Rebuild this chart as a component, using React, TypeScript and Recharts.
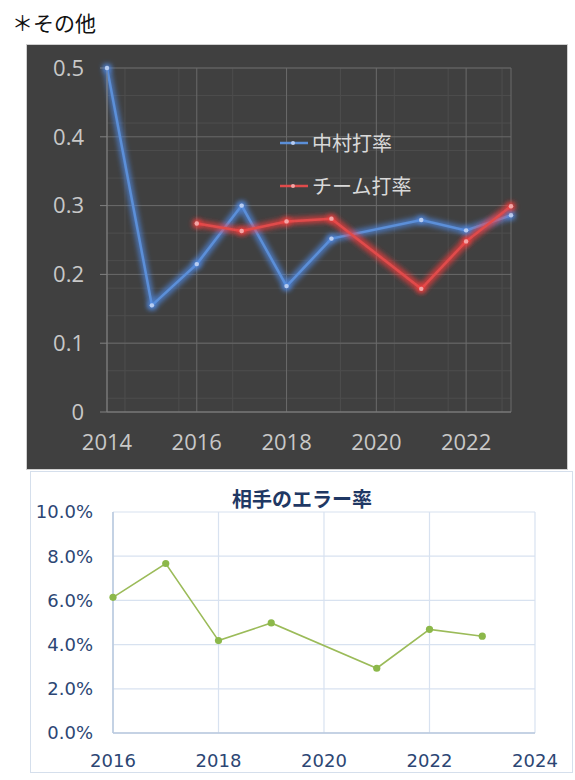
import { CartesianGrid, Legend, Line, LineChart, XAxis, YAxis } from "recharts";

// 打率 (top chart)
const years = [2014, 2015, 2016, 2017, 2018, 2019, 2020, 2021, 2022, 2023];
const nakamuraAvg = [0.5, 0.155, 0.215, 0.3, 0.183, 0.252, null, 0.279, 0.264, 0.286];
const teamAvg = [null, null, 0.274, 0.263, 0.277, 0.281, null, 0.179, 0.248, 0.299];
const avgTicksX = [2014, 2016, 2018, 2020, 2022];
const avgTicksY = [0, 0.1, 0.2, 0.3, 0.4, 0.5];

// 相手のエラー率 (bottom chart, %)
const errorYears = [2016, 2017, 2018, 2019, 2020, 2021, 2022, 2023];
const errorRate = [6.14, 7.67, 4.18, 4.98, null, 2.93, 4.69, 4.38];
const errorTicksX = [2016, 2018, 2020, 2022, 2024];
const errorTicksY = [0, 2, 4, 6, 8, 10];

// minor gridlines of the dark chart (5 per major unit)
const minorX = Array.from({ length: 23 }, (_, i) => 2014 + i * 0.4);
const minorY = Array.from({ length: 26 }, (_, i) => i * 0.02);

const avgRows = years.map((year, i) => ({
  year,
  nakamura: nakamuraAvg[i],
  team: teamAvg[i],
}));

const errorRows = errorYears.map((year, i) => ({ year, rate: errorRate[i] }));

const legendOrder = ["中村打率", "チーム打率"];
const seriesStyle: Record<string, { line: string; dot: string }> = {
  中村打率: { line: "#5b8fd8", dot: "#b7cdf2" },
  チーム打率: { line: "#e04b4b", dot: "#f4a5a5" },
};

const topFont = "'Open Sans', 'Noto Sans', sans-serif";
const numFont = "'DejaVu Sans', Verdana, sans-serif";

function AvgLegend({ payload }: any) {
  const items = [...(payload ?? [])].sort(
    (a: any, b: any) => legendOrder.indexOf(a.value) - legendOrder.indexOf(b.value)
  );
  return (
    <div>
      {items.map((entry: any) => {
        const style = seriesStyle[entry.value] ?? { line: entry.color, dot: entry.color };
        return (
          <div
            key={entry.value}
            style={{ display: "flex", alignItems: "center", height: 43 }}
          >
            <svg width={28} height={10}>
              <line x1={0} y1={5} x2={28} y2={5} stroke={style.line} strokeWidth={2.5} />
              <circle cx={13} cy={5} r={2} fill={style.dot} />
            </svg>
            <span
              style={{
                marginLeft: 4,
                fontSize: 20,
                color: "#d9d9d9",
                fontFamily: "'Noto Sans CJK JP', sans-serif",
              }}
            >
              {entry.value}
            </span>
          </div>
        );
      })}
    </div>
  );
}

function glowFilter(id: string, color: string) {
  return (
    <filter id={id} filterUnits="userSpaceOnUse" x={0} y={0} width={540} height={424}>
      <feMorphology in="SourceGraphic" operator="dilate" radius={2} result="wide" />
      <feGaussianBlur in="wide" stdDeviation={2.8} result="blur" />
      <feFlood floodColor={color} floodOpacity={0.7} />
      <feComposite in2="blur" operator="in" result="glow" />
      <feMerge>
        <feMergeNode in="glow" />
        <feMergeNode in="SourceGraphic" />
      </feMerge>
    </filter>
  );
}

export default function App() {
  return (
    <div
      style={{
        position: "absolute",
        left: 0,
        top: 0,
        width: 575,
        height: 780,
        background: "#ffffff",
        fontFamily: "'Noto Sans CJK JP', sans-serif",
      }}
    >
      <div
        style={{
          position: "absolute",
          left: 12,
          top: 8,
          fontSize: 21,
          lineHeight: "28px",
          color: "#111111",
        }}
      >
        ＊その他
      </div>

      <div
        style={{
          position: "absolute",
          left: 26,
          top: 44,
          width: 540,
          height: 424,
          background: "#404040",
          border: "1px solid #d0d0d0",
        }}
      >
        <LineChart
          width={540}
          height={424}
          data={avgRows}
          margin={{ top: 23, right: 56, bottom: 0, left: 0 }}
        >
          <defs>
            {glowFilter("glowBlue", "#4f8be8")}
            {glowFilter("glowRed", "#ff3c3c")}
          </defs>
          <CartesianGrid
            stroke="#4d4d4d"
            strokeWidth={1}
            verticalValues={minorX}
            horizontalValues={minorY}
          />
          <CartesianGrid stroke="#6a6a6a" strokeWidth={1} />
          <XAxis
            dataKey="year"
            type="number"
            domain={[2014, 2023]}
            ticks={avgTicksX}
            tickLine={false}
            tickSize={0}
            tickMargin={22}
            height={57}
            axisLine={{ stroke: "#808080" }}
            tick={{ fill: "#c8c8c8", fontSize: 22, fontFamily: topFont }}
          />
          <YAxis
            type="number"
            domain={[0, 0.5]}
            ticks={avgTicksY}
            width={80}
            tickSize={7}
            tickMargin={16}
            tickLine={{ stroke: "#808080" }}
            axisLine={{ stroke: "#808080" }}
            tick={{ fill: "#c8c8c8", fontSize: 22, fontFamily: topFont }}
          />
          <Legend
            layout="vertical"
            align="center"
            verticalAlign="middle"
            content={<AvgLegend />}
            wrapperStyle={{ left: 253, top: 76, width: 200, height: 86 }}
          />
          <Line
            name="中村打率"
            dataKey="nakamura"
            type="linear"
            stroke={seriesStyle["中村打率"].line}
            strokeWidth={2.5}
            filter="url(#glowBlue)"
            connectNulls
            dot={{ r: 2.2, fill: seriesStyle["中村打率"].dot, stroke: "none" }}
            activeDot={false}
            isAnimationActive={false}
          />
          <Line
            name="チーム打率"
            dataKey="team"
            type="linear"
            stroke={seriesStyle["チーム打率"].line}
            strokeWidth={2.5}
            filter="url(#glowRed)"
            connectNulls
            dot={{ r: 2.2, fill: seriesStyle["チーム打率"].dot, stroke: "none" }}
            activeDot={false}
            isAnimationActive={false}
          />
        </LineChart>
      </div>

      <div
        style={{
          position: "absolute",
          left: 30,
          top: 471,
          width: 541,
          height: 300,
          background: "#ffffff",
          border: "1px solid #d5dfec",
        }}
      >
        <div
          style={{
            position: "absolute",
            left: 171,
            top: 14,
            width: 200,
            textAlign: "center",
            fontSize: 20,
            lineHeight: "26px",
            fontWeight: 700,
            color: "#1f3864",
          }}
        >
          相手のエラー率
        </div>
        <LineChart
          width={541}
          height={300}
          data={errorRows}
          margin={{ top: 40, right: 37, bottom: 0, left: 0 }}
        >
          <CartesianGrid stroke="#d8e2f0" strokeWidth={1.2} />
          <XAxis
            dataKey="year"
            type="number"
            domain={[2016, 2024]}
            ticks={errorTicksX}
            tickLine={false}
            tickSize={0}
            tickMargin={21}
            height={39}
            axisLine={{ stroke: "#b9c9de", strokeWidth: 1.5 }}
            tick={{ fill: "#2c4674", fontSize: 18, fontFamily: numFont }}
          />
          <YAxis
            type="number"
            domain={[0, 10]}
            ticks={errorTicksY}
            width={82}
            tickLine={false}
            tickSize={0}
            tickMargin={20}
            axisLine={{ stroke: "#b9c9de", strokeWidth: 1.5 }}
            tickFormatter={(v: number) => `${v.toFixed(1)}%`}
            tick={{ fill: "#2c4674", fontSize: 18, fontFamily: numFont }}
          />
          <Line
            dataKey="rate"
            type="linear"
            stroke="#9bbb59"
            strokeWidth={1.6}
            connectNulls
            dot={{ r: 3.6, fill: "#8cb84a", stroke: "none" }}
            activeDot={false}
            isAnimationActive={false}
          />
        </LineChart>
      </div>
    </div>
  );
}
